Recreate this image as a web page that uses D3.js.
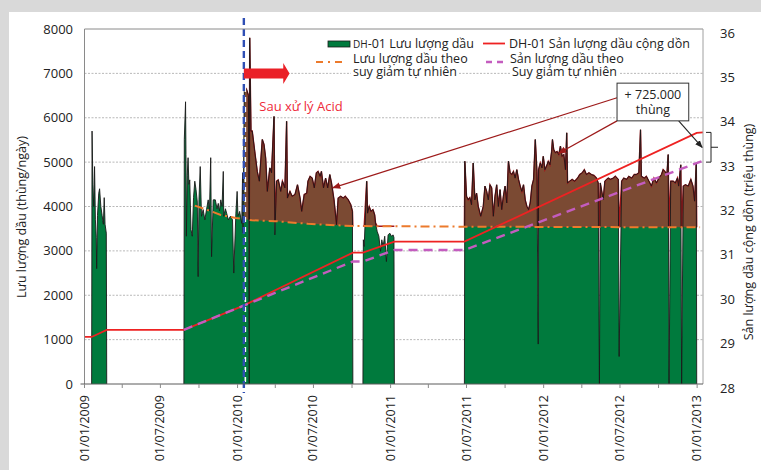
<!DOCTYPE html>
<html><head><meta charset="utf-8">
<script src="https://cdn.jsdelivr.net/npm/d3@7"></script>
<style>
html,body{margin:0;padding:0;background:#fff;}
svg{display:block;font-family:"Open Sans","Noto Sans",sans-serif;}
</style></head>
<body>
<svg id="c" width="761" height="470"></svg>
<script>
// ---------------- DATA ----------------
const xTickLabels = ["01/01/2009","01/07/2009","01/01/2010","01/07/2010","01/01/2011","01/07/2011","01/01/2012","01/07/2012","01/01/2013"];
const leftTicks = [0,1000,2000,3000,4000,5000,6000,7000,8000];
const rightTicks = [28,29,30,31,32,33,34,35,36];
const acidDate = "2010-01-16";

// daily oil rate (bbl/day), production period 1
const rate2009a = [["2009-01-18",0],["2009-01-19",5700],["2009-01-21",4500],["2009-01-23",4000],["2009-01-25",4900],["2009-01-27",3700],["2009-01-29",3300],["2009-01-30",2600],["2009-02-01",3800],["2009-02-04",4300],["2009-02-06",4400],["2009-02-09",4000],["2009-02-12",3800],["2009-02-15",3600],["2009-02-17",4200],["2009-02-19",3600],["2009-02-22",3400],["2009-02-23",0]];
// period 2 (before + after acid treatment)
const rate2009b = [["2009-08-26",0],["2009-08-27",5510],["2009-08-30",6360],["2009-08-31",5170],["2009-09-01",3330],["2009-09-03",4700],["2009-09-05",5100],["2009-09-07",4500],["2009-09-09",4600],["2009-09-12",3480],["2009-09-15",3330],["2009-09-18",4200],["2009-09-21",4570],["2009-09-24",4380],["2009-09-27",4100],["2009-09-29",2420],["2009-10-01",4150],["2009-10-04",4900],["2009-10-07",3780],["2009-10-11",3930],["2009-10-15",3700],["2009-10-19",3930],["2009-10-23",4150],["2009-10-26",3900],["2009-10-29",5100],["2009-10-31",2870],["2009-11-04",4150],["2009-11-09",4150],["2009-11-13",3950],["2009-11-16",4070],["2009-11-19",3900],["2009-11-22",4150],["2009-11-25",4000],["2009-11-28",4790],["2009-11-29",3780],["2009-12-03",3950],["2009-12-06",3850],["2009-12-10",3700],["2009-12-15",3780],["2009-12-20",3700],["2009-12-23",2500],["2009-12-28",3850],["2009-12-31",4340],["2010-01-02",3780],["2010-01-06",3890],["2010-01-11",3620],["2010-01-13",4760],["2010-01-14",3400],
["2010-01-17",6600],["2010-01-22",6650],["2010-01-27",6500],["2010-01-29",0],["2010-01-30",7800],["2010-02-02",5700],["2010-02-05",5700],["2010-02-11",5240],["2010-02-17",4790],["2010-02-22",4570],["2010-03-01",5510],["2010-03-05",5400],["2010-03-09",5090],["2010-03-13",4340],["2010-03-19",4870],["2010-03-23",4760],["2010-03-29",6030],["2010-03-31",3360],["2010-04-04",4570],["2010-04-08",4600],["2010-04-14",4340],["2010-04-18",4570],["2010-04-24",4420],["2010-04-28",5920],["2010-04-30",4190],["2010-05-06",4340],["2010-05-11",4230],["2010-05-18",4270],["2010-05-24",4490],["2010-05-30",4190],["2010-06-03",3890],["2010-06-09",4270],["2010-06-15",4300],["2010-06-18",4570],["2010-06-23",4680],["2010-06-28",4640],["2010-07-03",4420],["2010-07-08",4760],["2010-07-12",4790],["2010-07-17",4680],["2010-07-20",4790],["2010-07-25",4420],["2010-07-30",4640],["2010-08-04",4420],["2010-08-09",4720],["2010-08-13",4530],["2010-08-19",4150],["2010-08-25",3590],["2010-08-29",4190],["2010-09-04",4230],["2010-09-10",4190],["2010-09-15",4230],["2010-09-22",4150],["2010-09-28",4040],["2010-10-02",3890],["2010-10-03",0]];
// period 3
const rate2010 = [["2010-10-27",0],["2010-10-28",3250],["2010-10-30",3100],["2010-11-05",4570],["2010-11-07",3850],["2010-11-11",4000],["2010-11-15",3890],["2010-11-20",3930],["2010-11-24",3810],["2010-11-26",3630],["2010-11-30",3440],["2010-12-04",3330],["2010-12-08",2990],["2010-12-11",3250],["2010-12-14",3100],["2010-12-18",3330],["2010-12-22",2760],["2010-12-26",3360],["2010-12-30",3400],["2011-01-03",3330],["2011-01-07",3360],["2011-01-09",3300],["2011-01-10",0]];
// period 4
const rate2011 = [["2011-06-26",0],["2011-06-27",5020],["2011-07-01",4230],["2011-07-05",4150],["2011-07-09",4200],["2011-07-13",4040],["2011-07-17",4980],["2011-07-21",4150],["2011-07-25",4300],["2011-07-29",4000],["2011-08-04",3780],["2011-08-10",4000],["2011-08-14",4460],["2011-08-18",4340],["2011-08-22",4150],["2011-08-26",4490],["2011-08-30",4420],["2011-09-03",3780],["2011-09-07",4230],["2011-09-11",4490],["2011-09-15",4000],["2011-09-19",4380],["2011-09-23",3930],["2011-09-27",4230],["2011-10-01",4460],["2011-10-05",4080],["2011-10-09",5020],["2011-10-13",4760],["2011-10-17",4720],["2011-10-21",4790],["2011-10-25",4640],["2011-10-29",4830],["2011-11-02",4610],["2011-11-06",4460],["2011-11-10",4340],["2011-11-14",4490],["2011-11-18",4150],["2011-11-22",4000],["2011-11-26",3930],["2011-11-30",4080],["2011-12-04",4460],["2011-12-08",4610],["2011-12-12",5510],["2011-12-16",4790],["2011-12-19",900],["2011-12-20",4830],["2011-12-24",4980],["2011-12-28",4870],["2011-12-31",5130],["2012-01-04",4830],["2012-01-08",4910],["2012-01-12",5020],["2012-01-16",4940],["2012-01-20",5240],["2012-01-22",5510],["2012-01-25",5280],["2012-01-29",5210],["2012-02-02",5240],["2012-02-06",5170],["2012-02-10",5360],["2012-02-14",5130],["2012-02-18",5170],["2012-02-22",4830],["2012-02-25",5660],["2012-02-27",4530],["2012-03-03",4570],["2012-03-09",4610],["2012-03-15",4570],["2012-03-22",4640],["2012-03-27",4720],["2012-04-02",4760],["2012-04-07",4830],["2012-04-12",4720],["2012-04-18",4760],["2012-04-24",4720],["2012-04-30",4700],["2012-05-06",4640],["2012-05-10",4530],["2012-05-13",0],["2012-05-15",4530],["2012-05-22",4150],["2012-05-26",4570],["2012-05-30",4610],["2012-06-03",4640],["2012-06-08",4610],["2012-06-15",4640],["2012-06-20",4680],["2012-06-27",4610],["2012-06-29",620],["2012-07-05",4570],["2012-07-10",4640],["2012-07-17",4610],["2012-07-22",4680],["2012-07-29",4640],["2012-08-04",4720],["2012-08-09",4720],["2012-08-15",4760],["2012-08-19",5730],["2012-08-21",4680],["2012-08-28",4640],["2012-09-02",4680],["2012-09-08",4570],["2012-09-14",4460],["2012-09-20",4640],["2012-09-26",4530],["2012-10-02",4640],["2012-10-08",4720],["2012-10-12",4830],["2012-10-16",4790],["2012-10-21",4720],["2012-10-24",5170],["2012-10-26",0],["2012-10-30",4570],["2012-11-05",4570],["2012-11-10",4530],["2012-11-15",4640],["2012-11-18",4460],["2012-11-23",4940],["2012-11-25",0],["2012-11-29",4460],["2012-12-04",4490],["2012-12-11",4460],["2012-12-17",4610],["2012-12-22",4460],["2012-12-26",4120],["2012-12-30",4980],["2012-12-31",0]];

// natural-decline rate (bbl/day)
const declineRate = [["2009-09-21",4020],["2009-10-31",3890],["2009-11-22",3810],["2009-12-28",3740],["2010-02-04",3690],["2010-03-31",3670],["2010-06-18",3610],["2010-10-01",3560],["2011-06-30",3545],["2013-01-08",3530]];
// cumulative production (million bbl)
const cumActual = [["2009-01-01",29.06],["2009-01-18",29.06],["2009-02-23",29.22],["2009-08-26",29.22],["2010-01-14",29.76],["2010-10-03",30.96],["2010-10-27",30.96],["2011-01-10",31.21],["2011-06-26",31.21],["2012-12-31",33.66],["2013-01-15",33.67]];
const cumDecline = [["2009-08-26",29.22],["2010-01-14",29.76],["2010-10-03",30.76],["2010-10-27",30.76],["2011-01-10",31.02],["2011-06-26",31.02],["2013-01-12",33.02]];

// ---------------- CHART ----------------
const P = d3.utcParse("%Y-%m-%d");
const PL = d3.utcParse("%d/%m/%Y");
const svg = d3.select("#c");
const W = 761, H = 470;
const L = 84.5, R = 703, T = 29, B = 384;

const x = d3.scaleUtc().domain([P("2009-01-01"), P("2013-01-15")]).range([L, R]);
const yL = d3.scaleLinear().domain([0, 8000]).range([B, T]);
const yR = d3.scaleLinear().domain([28, 36]).range([B, T]);

const conv = a => a.map(d => ({d: P(d[0]), v: d[1]}));
const periods = [rate2009a, rate2009b, rate2010, rate2011].map(conv);
const decl = conv(declineRate);
const declAt = d3.scaleUtc().domain(decl.map(d => d.d)).range(decl.map(d => d.v)).clamp(true);
const acid = P(acidDate);

// background frame
svg.append("rect").attr("width", W).attr("height", H).attr("fill", "#d9d9d9");
svg.append("rect").attr("x", 9).attr("y", 12).attr("width", W - 9).attr("height", H - 12).attr("fill", "#fff");

// gridlines
svg.append("g").selectAll("line").data(leftTicks.filter(v => v > 0 && v < 8000)).join("line")
  .attr("x1", L).attr("x2", R).attr("y1", d => yL(d)).attr("y2", d => yL(d))
  .attr("stroke", "#a6a6a6").attr("stroke-width", 0.8).attr("stroke-dasharray", "2,1.5");

// green area
const area = d3.area().x(d => x(d.d)).y0(yL(0)).y1(d => yL(d.v));
svg.append("g").selectAll("path").data(periods).join("path")
  .attr("d", area).attr("fill", "#007a3d");

// brown area above decline after acid
const brownData = periods.map(p => p.filter(d => d.d >= acid && d.d <= decl[decl.length-1].d))
  .filter(p => p.length);
const bArea = d3.area().x(d => x(d.d)).y0(d => yL(declAt(d.d))).y1(d => yL(Math.max(d.v, declAt(d.d))));
svg.append("g").selectAll("path").data(brownData).join("path")
  .attr("d", bArea).attr("fill", "#7b4a33");
const bLine = d3.line().x(d => x(d.d)).y(d => yL(Math.max(d.v, declAt(d.d))));
svg.append("g").selectAll("path").data(brownData).join("path")
  .attr("d", bLine).attr("fill", "none").attr("stroke", "#a4161a").attr("stroke-width", 1.4);

// black rate line
const rLine = d3.line().x(d => x(d.d)).y(d => yL(d.v));
svg.append("g").selectAll("path").data(periods).join("path")
  .attr("d", rLine).attr("fill", "none").attr("stroke", "#1a1a1a").attr("stroke-width", 0.9);

// decline rate (orange dash-dot)
svg.append("path").datum(decl)
  .attr("d", d3.line().x(d => x(d.d)).y(d => yL(d.v)))
  .attr("fill", "none").attr("stroke", "#ec7a2c").attr("stroke-width", 2)
  .attr("stroke-dasharray", "9,4,2,4");

// cumulative lines
svg.append("path").datum(conv(cumActual))
  .attr("d", d3.line().x(d => x(d.d)).y(d => yR(d.v)))
  .attr("fill", "none").attr("stroke", "#ee2222").attr("stroke-width", 1.8);
svg.append("path").datum(conv(cumDecline))
  .attr("d", d3.line().x(d => x(d.d)).y(d => yR(d.v)))
  .attr("fill", "none").attr("stroke", "#c45cbf").attr("stroke-width", 2.4)
  .attr("stroke-dasharray", "9,6");

// acid treatment line
const xa = x(acid);
svg.append("line").attr("x1", xa + 1.5).attr("x2", xa + 1.5).attr("y1", 22).attr("y2", B)
  .attr("stroke", "#fff").attr("stroke-width", 1.6).attr("stroke-dasharray", "5,5").attr("stroke-dashoffset", 5);
svg.append("line").attr("x1", xa).attr("x2", xa).attr("y1", 18).attr("y2", 393)
  .attr("stroke", "#2f4fb4").attr("stroke-width", 2.4).attr("stroke-dasharray", "7,4");

// axes frame
svg.append("line").attr("x1", L).attr("x2", R).attr("y1", T).attr("y2", T).attr("stroke", "#8a8a8a").attr("stroke-width", 1);
svg.append("line").attr("x1", R).attr("x2", R).attr("y1", T).attr("y2", B).attr("stroke", "#a0a0a0").attr("stroke-width", 1);
svg.append("line").attr("x1", L).attr("x2", L).attr("y1", T).attr("y2", B).attr("stroke", "#8a8a8a").attr("stroke-width", 1);
svg.append("line").attr("x1", L - 4).attr("x2", R).attr("y1", B).attr("y2", B).attr("stroke", "#5a5a5a").attr("stroke-width", 1);

// x ticks (quarterly)
const qTicks = d3.utcMonth.every(3).range(P("2009-01-01"), P("2013-01-02"));
svg.append("g").selectAll("line").data(qTicks).join("line")
  .attr("x1", d => x(d)).attr("x2", d => x(d)).attr("y1", B).attr("y2", B + 4)
  .attr("stroke", "#8a8a8a");
svg.append("g").selectAll("text").data(xTickLabels).join("text")
  .attr("transform", d => `translate(${x(PL(d)) + 4},395) rotate(-90)`)
  .attr("text-anchor", "end").attr("font-size", 12.5).attr("fill", "#222").text(d => d);

// left axis labels
svg.append("g").selectAll("text").data(leftTicks).join("text")
  .attr("x", 73).attr("y", d => yL(d)).attr("dy", "0.35em").attr("text-anchor", "end")
  .attr("font-size", 13).attr("fill", "#222").text(d => d);
// right axis labels
svg.append("g").selectAll("text").data(rightTicks).join("text")
  .attr("x", 720).attr("y", d => yR(d) + 4).attr("dy", "0.35em").attr("text-anchor", "start")
  .attr("font-size", 13).attr("fill", "#222").text(d => d);

// axis titles
svg.append("text").attr("transform", "translate(26,217) rotate(-90)").attr("text-anchor", "middle")
  .attr("font-size", 12.5).attr("fill", "#222").text("Lưu lượng dầu (thùng/ngày)");
svg.append("text").attr("transform", "translate(753,232) rotate(-90)").attr("text-anchor", "middle")
  .attr("font-size", 12.5).attr("fill", "#222").text("Sản lượng dầu cộng dồn (triệu thùng)");

// ---------------- ANNOTATIONS ----------------
const defs = svg.append("defs");
function marker(id, color) {
  defs.append("marker").attr("id", id).attr("viewBox", "0 0 10 10").attr("refX", 9).attr("refY", 5)
    .attr("markerWidth", 7).attr("markerHeight", 7).attr("orient", "auto-start-reverse")
    .append("path").attr("d", "M0,1 L10,5 L0,9 z").attr("fill", color);
}
marker("mRed", "#9e1b1b");
marker("mBlk", "#222");

// red block arrow after acid
const ay = yL(7000);
const ax0 = xa, ax1 = x(P("2010-04-20")), ax2 = x(P("2010-05-05"));
svg.append("path").attr("d",
  `M${ax0},${ay-5} L${ax1},${ay-5} L${ax1},${ay-10.5} L${ax2},${ay} L${ax1},${ay+10.5} L${ax1},${ay+5} L${ax0},${ay+5} Z`)
  .attr("fill", "#ea2027");
svg.append("text").attr("x", x(P("2010-02-22"))).attr("y", yL(6160)).attr("font-size", 13)
  .attr("fill", "#ee2a3a").text("Sau xử lý Acid");

// box
const bx0 = x(P("2012-06-24")), bx1 = x(P("2012-12-12")), by0 = yL(6780), by1 = yL(5930);
svg.append("line").attr("x1", bx0).attr("y1", yL(6450)).attr("x2", x(P("2010-08-16"))).attr("y2", yL(4420))
  .attr("stroke", "#9e1b1b").attr("stroke-width", 1.2).attr("marker-end", "url(#mRed)");
svg.append("line").attr("x1", bx0).attr("y1", by1).attr("x2", x(P("2012-02-06"))).attr("y2", yL(5200))
  .attr("stroke", "#9e1b1b").attr("stroke-width", 1.2).attr("marker-end", "url(#mRed)");
svg.append("line").attr("x1", x(P("2012-11-18"))).attr("y1", by1).attr("x2", x(P("2013-01-13"))).attr("y2", yR(33.33))
  .attr("stroke", "#222").attr("stroke-width", 1.1).attr("marker-end", "url(#mBlk)");
svg.append("rect").attr("x", bx0).attr("y", by0).attr("width", bx1 - bx0).attr("height", by1 - by0)
  .attr("fill", "#fff").attr("stroke", "#333").attr("stroke-width", 1);
svg.append("text").attr("x", (bx0 + bx1) / 2).attr("y", by0 + 16).attr("text-anchor", "middle")
  .attr("font-size", 12.5).attr("fill", "#222").text("+ 725.000");
svg.append("text").attr("x", (bx0 + bx1) / 2).attr("y", by0 + 31).attr("text-anchor", "middle")
  .attr("font-size", 12.5).attr("fill", "#222").text("thùng");

// bracket showing the gain
const k0 = yR(33.67), k1 = yR(33.0), km = (k0 + k1) / 2;
svg.append("path").attr("d", `M${R+3},${k0} L${R+8},${k0} L${R+8},${k1} L${R+3},${k1} M${R+8},${km} L${R+15},${km}`)
  .attr("fill", "none").attr("stroke", "#222").attr("stroke-width", 1);

// ---------------- LEGEND ----------------
const lg = svg.append("g").attr("font-size", 12.5).attr("fill", "#222");
const lgBg = lg.append("g");
function ltext(xp, yp, parts) {
  const t = lg.append("text").attr("x", xp).attr("y", yp);
  parts.forEach(p => t.append("tspan").attr("font-size", p[1] || 12.5).text(p[0]));
  const bb = t.node().getBBox();
  lgBg.append("rect").attr("x", bb.x - 2).attr("y", yp - 9).attr("width", bb.width + 4).attr("height", 11).attr("fill", "#fff");
}
lg.append("rect").attr("x", 328).attr("y", 41).attr("width", 22).attr("height", 6).attr("fill", "#007a3d").attr("stroke", "#1a1a1a").attr("stroke-width", 0.8);
ltext(353, 48, [["DH", 10], ["-01 Lưu lượng dầu"]]);
lg.append("line").attr("x1", 483).attr("x2", 505).attr("y1", 43.5).attr("y2", 43.5).attr("stroke", "#ee2222").attr("stroke-width", 1.8);
ltext(509, 48, [["DH-01 Sản lượng dầu cộng dồn"]]);
lg.append("line").attr("x1", 316).attr("x2", 343).attr("y1", 62).attr("y2", 62).attr("stroke", "#ec7a2c").attr("stroke-width", 2).attr("stroke-dasharray", "7,5,2,5");
ltext(353, 63, [["Lưu lượng dầu theo"]]);
ltext(353, 76, [["suy giảm tự nhiên"]]);
lg.append("line").attr("x1", 486).attr("x2", 504).attr("y1", 62).attr("y2", 62).attr("stroke", "#c45cbf").attr("stroke-width", 2.4).attr("stroke-dasharray", "6,5");
ltext(510, 63, [["Sản lượng dầu theo"]]);
ltext(512, 76, [["Suy giảm tự nhiên"]]);
</script>
</body></html>
